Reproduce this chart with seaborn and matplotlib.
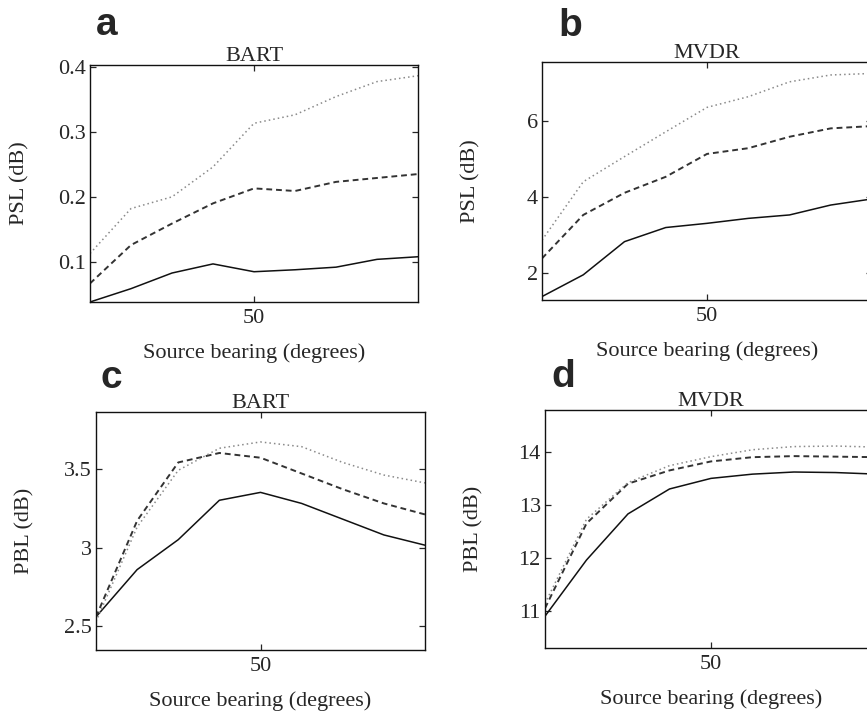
import matplotlib
matplotlib.use("Agg")
import matplotlib.pyplot as plt
import seaborn as sns
import numpy as np

sns.set_style("ticks")
plt.rcParams['font.family'] = ['Liberation Serif', 'DejaVu Serif']

bearing = [10, 20, 30, 40, 50, 60, 70, 80, 90]

# Panel a: BART PSL
a_solid = [0.0385, 0.059, 0.083, 0.097, 0.085, 0.088, 0.092, 0.104, 0.108]
a_dash = [0.067, 0.126, 0.159, 0.190, 0.213, 0.209, 0.223, 0.229, 0.235]
a_dot = [0.113, 0.182, 0.200, 0.246, 0.313, 0.326, 0.354, 0.377, 0.386]

# Panel b: MVDR PSL
b_solid = [1.39, 1.96, 2.83, 3.20, 3.31, 3.44, 3.53, 3.79, 3.95]
b_dash = [2.39, 3.53, 4.11, 4.53, 5.13, 5.28, 5.58, 5.80, 5.86]
b_dot = [2.87, 4.40, 5.06, 5.71, 6.35, 6.63, 7.02, 7.20, 7.24]

# Panel c: BART PBL
c_solid = [2.56, 2.86, 3.05, 3.30, 3.35, 3.28, 3.18, 3.08, 3.015]
c_dash = [2.56, 3.17, 3.54, 3.60, 3.57, 3.47, 3.37, 3.28, 3.21]
c_dot = [2.53, 3.13, 3.49, 3.63, 3.67, 3.64, 3.54, 3.46, 3.41]

# Panel d: MVDR PBL
d_solid = [10.90, 11.96, 12.83, 13.30, 13.50, 13.58, 13.62, 13.61, 13.58]
d_dash = [11.05, 12.65, 13.40, 13.65, 13.82, 13.90, 13.92, 13.91, 13.90]
d_dot = [11.14, 12.73, 13.42, 13.74, 13.91, 14.04, 14.10, 14.11, 14.09]

panels = [
    dict(letter="a", title="BART", ylabel="PSL (dB)", series=(a_solid, a_dash, a_dot),
         ylim=(0.0385, 0.4025), yticks=[0.1, 0.2, 0.3, 0.4], yticklabels=["0.1", "0.2", "0.3", "0.4"],
         rect=[90/867, 1-302/717, 328/867, 237/717], letterpos=(96, 35)),
    dict(letter="b", title="MVDR", ylabel="PSL (dB)", series=(b_solid, b_dash, b_dot),
         ylim=(1.30, 7.54), yticks=[2, 4, 6], yticklabels=["2", "4", "6"],
         rect=[542/867, 1-300/717, 330/867, 238/717], letterpos=(558, 36)),
    dict(letter="c", title="BART", ylabel="PBL (dB)", series=(c_solid, c_dash, c_dot),
         ylim=(2.35, 3.86), yticks=[2.5, 3.0, 3.5], yticklabels=["2.5", "3", "3.5"],
         rect=[96/867, 1-650/717, 329/867, 238/717], letterpos=(100, 388)),
    dict(letter="d", title="MVDR", ylabel="PBL (dB)", series=(d_solid, d_dash, d_dot),
         ylim=(10.3, 14.79), yticks=[11, 12, 13, 14], yticklabels=["11", "12", "13", "14"],
         rect=[545/867, 1-648/717, 332/867, 238/717], letterpos=(551, 387)),
]

fig = plt.figure(figsize=(8.67, 7.17), dpi=100)
fs = 16

for p in panels:
    ax = fig.add_axes(p["rect"])
    solid, dash, dot = p["series"]
    sns.lineplot(x=bearing, y=solid, ax=ax, color="#111111", linewidth=1.1, linestyle="-")
    sns.lineplot(x=bearing, y=dash, ax=ax, color="#333333", linewidth=1.4, linestyle=(0, (3, 2)))
    sns.lineplot(x=bearing, y=dot, ax=ax, color="#8a8a8a", linewidth=1.1, linestyle=(0, (1, 2)))
    ax.set_xlim(10, 90)
    ax.set_ylim(*p["ylim"])
    ax.set_xticks([50])
    ax.set_xticklabels(["50"], fontsize=fs)
    ax.set_yticks(p["yticks"])
    ax.set_yticklabels(p["yticklabels"], fontsize=fs)
    ax.tick_params(direction="in", length=4, width=0.9, top=True, right=True, pad=3)
    ax.tick_params(axis="x", pad=5)
    for s in ax.spines.values():
        s.set_linewidth(1.0)
        s.set_color("#111111")
    ax.set_title(p["title"], fontsize=fs, pad=3)
    ax.set_xlabel("Source bearing (degrees)", fontsize=fs)
    ax.xaxis.set_label_coords(0.5, -0.215)
    ax.xaxis.label.set_va("center")
    ax.set_ylabel(p["ylabel"], fontsize=fs)
    ax.yaxis.set_label_coords(-0.215, 0.5)
    ax.yaxis.label.set_va("center")
    lx, ly = p["letterpos"]
    fig.text(lx/867, 1-ly/717, p["letter"], fontsize=28, fontweight="bold",
             family=["Liberation Sans", "DejaVu Sans"], ha="left", va="baseline")

fig.savefig("out.png", dpi=100)
